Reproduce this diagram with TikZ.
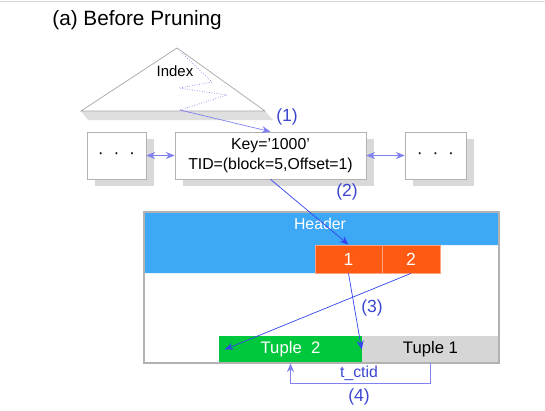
\documentclass[tikz,border=0pt]{standalone}
\usepackage{fontspec}
\setmainfont{Liberation Sans}
\usetikzlibrary{arrows.meta,shadows}

\definecolor{hdrblue}{RGB}{61,168,245}
\definecolor{cellorange}{RGB}{255,90,20}
\definecolor{tuplegreen}{RGB}{0,200,60}
\definecolor{tuplegray}{RGB}{214,214,214}
\definecolor{ptrblue}{RGB}{51,68,238}
\definecolor{ptrlight}{RGB}{128,128,240}
\definecolor{lblblue}{RGB}{60,70,210}

\begin{document}
\begin{tikzpicture}[x=0.02cm,y=-0.02cm,
  box/.style={draw=gray!60,fill=white,inner sep=0pt,minimum height=0.94cm},
  shadowed/.style={drop shadow={shadow xshift=0.16cm,shadow yshift=-0.14cm,fill=gray!30,opacity=1}},
  cell/.style={fill=cellorange,draw=cellorange!55!white,text=white,inner sep=0pt,minimum height=0.56cm,font=\fontsize{10}{12}\selectfont},
  tuple/.style={inner sep=0pt,minimum height=0.54cm,font=\fontsize{9.5}{12}\selectfont},
  lbl/.style={text=lblblue,font=\fontsize{10}{12}\selectfont},
  ptr/.style={draw=ptrblue,-{Stealth[length=5pt,width=4pt]}},
  ]
\useasboundingbox (0,0) rectangle (545,410);
\draw[gray!30] (0,1) -- (545,1);

\node[anchor=west,inner sep=0pt,font=\fontsize{11.8}{14}\selectfont] (title) at (52,20) {(a) Before Pruning};

% index tree
\coordinate (top) at (177,48);
\coordinate (bl) at (81,111);
\coordinate (br) at (265,111);
\fill[gray!25] (bl) -- (br) -- (273,120) -- (88,120) -- cycle;
\draw[gray!70,fill=white] (top) -- (br) -- (bl) -- cycle;
\node[font=\fontsize{8.5}{10}\selectfont] (idx) at (175,71) {Index};
\draw[ptrlight,densely dotted] (182,53) -- (212,82) -- (179,88) -- (227,95) -- (180,110) coordinate (leaf);

% leaf items
\node[box,shadowed,minimum width=1.18cm,font=\fontsize{10}{12}\selectfont] (lb) at (116.5,155.5) {·~~·~~·};
\node[box,shadowed,minimum width=3.82cm,align=center,font=\fontsize{9}{11.4}\selectfont] (key) at (270.5,155.5) {Key=’1000’\\TID=(block=5,Offset=1)};
\node[box,shadowed,minimum width=1.22cm,font=\fontsize{10}{12}\selectfont] (rb) at (435.5,155.5) {·~~·~~·};
\path[draw=ptrlight,{Stealth[length=5pt,width=4pt]}-{Stealth[length=5pt,width=4pt]}] (lb) -- (key);
\path[draw=ptrlight,{Stealth[length=5pt,width=4pt]}-{Stealth[length=5pt,width=4pt]}] (key) -- (rb);

% heap page
\fill[hdrblue] (144,212) -- (499,212) -- (499,245) -- (315,245) -- (315,273) -- (144,273) -- cycle;
\node[text=white,font=\fontsize{9}{11}\selectfont] (hdr) at (320,224) {Header};
\node[cell,minimum width=1.34cm] (c1) at (348.5,259) {1};
\node[cell,minimum width=1.16cm] (c2) at (411,259) {2};
\node[tuple,fill=tuplegreen,text=white,minimum width=2.86cm] (t2) at (290.5,349.5) {Tuple~~2};
\node[tuple,fill=tuplegray,minimum width=2.74cm] (t1) at (430.5,349.5) {Tuple 1};
\draw[gray!60,line width=0.8pt] (144,212) rectangle (499,363);

% pointers
\path[ptr,draw=ptrlight] (leaf) -- (key.north);
\node[lbl] (s1) at (287,117) {(1)};
\path[ptr] (key.south) -- (c1.north);
\node[lbl] (s2) at (347,192) {(2)};
\path[ptr] (c1.south) -- (t1.west);
\path[ptr] (c2.south) -- ([xshift=0.12cm]t2.west);
\node[lbl] (s3) at (372,308) {(3)};
\path[ptr,draw=ptrlight] (t1.south) -- ++(0,20) -| (t2.south);
\node[lbl,font=\fontsize{9}{11}\selectfont] (ctid) at (359,373) {t\_ctid};
\node[lbl] (s4) at (359,397) {(4)};
\end{tikzpicture}
\end{document}
